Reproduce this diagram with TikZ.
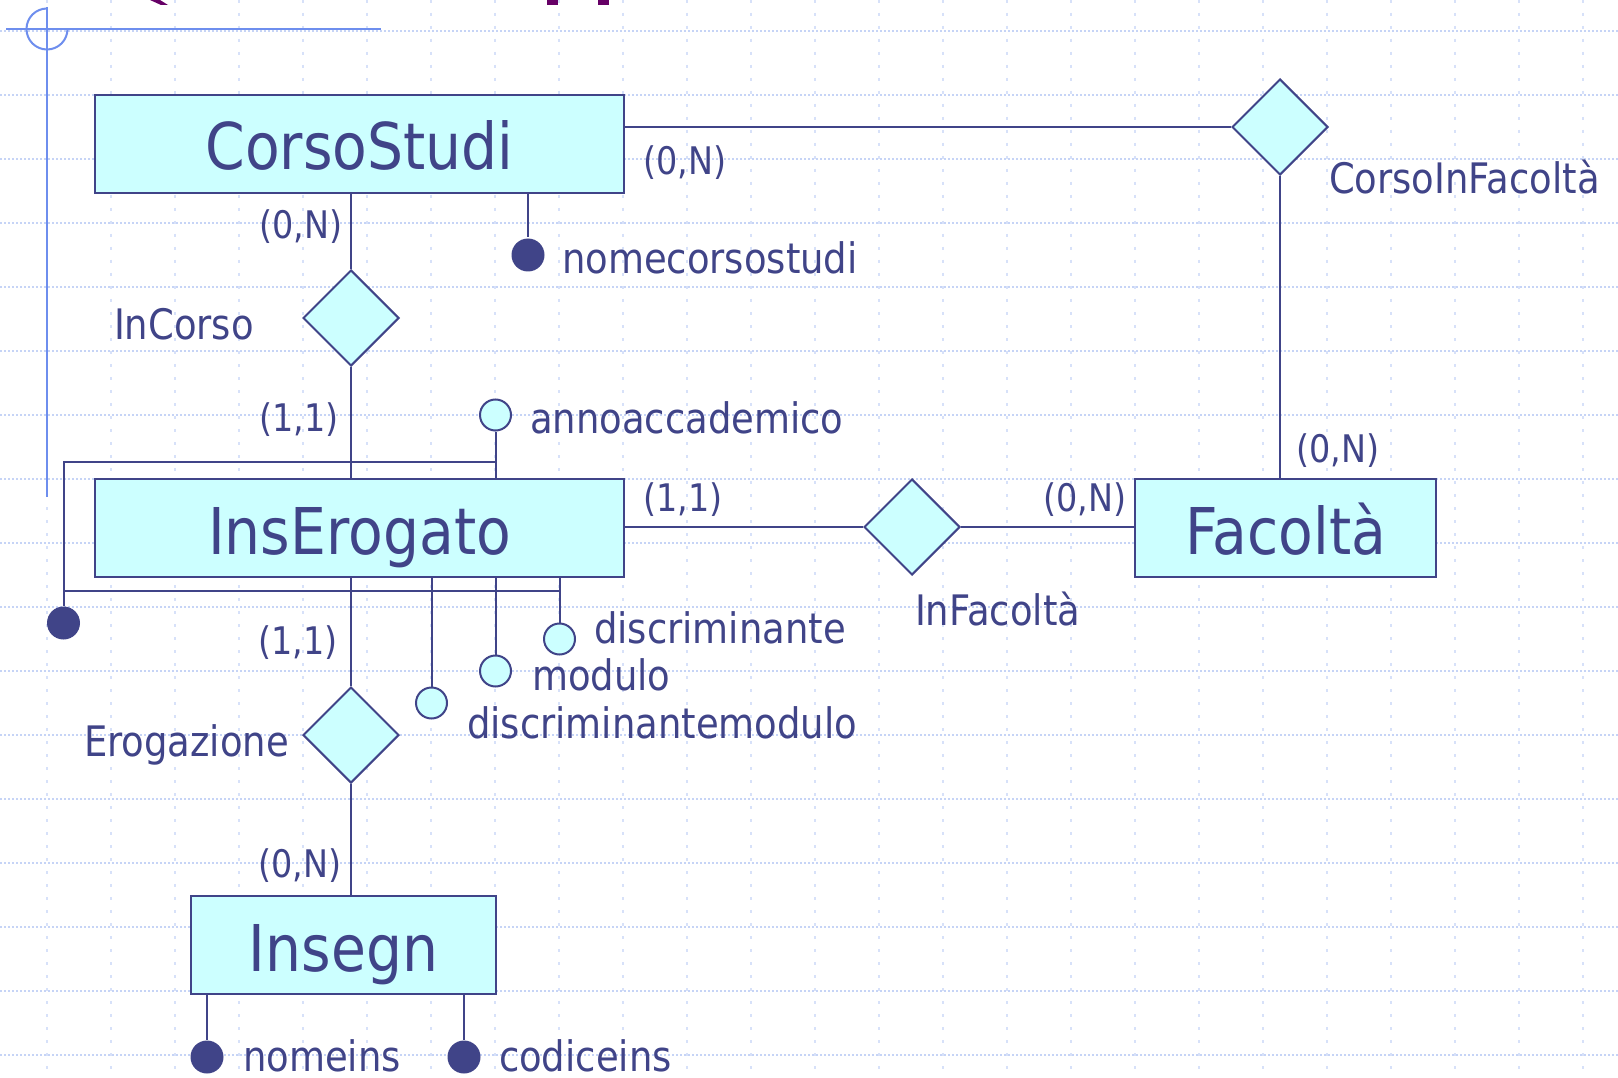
\documentclass[tikz,border=0pt]{standalone}
\usepackage{fontspec}
\setmainfont[FakeStretch=0.88]{DejaVu Sans}
\usetikzlibrary{shapes.geometric,positioning}

\definecolor{erblue}{HTML}{404488}
\definecolor{erfill}{HTML}{CCFFFF}
\definecolor{gridblue}{HTML}{C6D4F6}
\definecolor{decoblue}{HTML}{6E8EEE}
\definecolor{titlepurple}{HTML}{660066}

\begin{document}
\begin{tikzpicture}[
        x=1pt, y=-1pt,
        line width=2pt, erblue
    ]

    \tikzstyle{entity} = [rectangle,draw,fill=erfill,line width=2.4pt,inner sep=0pt,
        minimum height=98pt,text height=52pt,text depth=0pt,font=\fontsize{64.5}{70}\selectfont]
    \tikzstyle{relation} = [diamond,draw,fill=erfill,inner sep=0pt,minimum width=96pt,minimum height=96pt]
    \tikzstyle{keyattr} = [circle,fill=erblue,inner sep=0pt,minimum size=33pt]
    \tikzstyle{attr} = [circle,draw,fill=erfill,inner sep=0pt,minimum size=31pt]
    \tikzstyle{attrtext} = [anchor=base west,inner sep=0pt,font=\fontsize{42}{47}\selectfont]
    \tikzstyle{cardtext} = [inner sep=0pt,font=\fontsize{38}{42}\selectfont]

    \fill[white] (0,0) rectangle (1618,1078);
    \useasboundingbox (0,0) rectangle (1618,1078);

    % slide background
    \foreach \gy in {31,95,...,1055}
        \draw[gridblue,line width=1.5pt,dash pattern=on 2pt off 2pt] (0,\gy) -- (1618,\gy);
    \foreach \gx in {47,111,...,1583}
        \draw[gridblue!70,line width=1.5pt,dash pattern=on 3pt off 10pt] (\gx,0) -- (\gx,1078);
    \draw[decoblue] (6,29) -- (381,29);
    \draw[decoblue] (47,7) -- (47,497);
    \draw[decoblue] (67.5,29) arc[start angle=0,end angle=270,radius=20.5];
    \fill[titlepurple] (150,0) -- (160,0) -- (168,5) -- (161,5) -- cycle;
    \fill[titlepurple] (547,0) rectangle (558,5);
    \fill[titlepurple] (598,0) rectangle (609,5);

    % entities
    \node[entity,minimum width=529pt] (corso) at (359.5,144) {CorsoStudi};
    \node[entity,minimum width=529pt] (inserog) at (359.5,528) {InsErogato};
    \node[entity,minimum width=301pt] (facolta) at (1285.5,528) {Facoltà};
    \node[entity,minimum width=305pt] (insegn) at (343.5,945) {Insegn};

    % relationships
    \node[relation] (corsoinfac) at (1280,127) {};
    \node[relation] (incorso) at (351,318) {};
    \node[relation] (infac) at (912,527) {};
    \node[relation] (erogaz) at (351,735) {};

    % attributes
    \node[keyattr] (nomecs) at (528,255) {};
    \node[attr] (annoacc) at (495.5,415) {};
    \node[attr] (discr) at (559.5,639) {};
    \node[attr] (modulo) at (495.5,671) {};
    \node[attr] (discrmod) at (431.5,703) {};
    \node[keyattr] (idins) at (63.5,623) {};
    \node[keyattr] (nomeins) at (207,1057) {};
    \node[keyattr] (codins) at (464,1057) {};

    \coordinate (idtop) at (63.5,462);
    \coordinate (idbot) at (63.5,591);

    \path[]
        (corso.east |- corsoinfac) edge (corsoinfac)
        (corsoinfac) edge (facolta.north -| corsoinfac)
        (corso.south -| incorso) edge (incorso)
        (incorso) edge (inserog.north -| incorso)
        (inserog.east |- infac) edge (infac)
        (infac) edge (facolta.west |- infac)
        (inserog.south -| erogaz) edge (erogaz)
        (erogaz) edge (insegn.north -| erogaz)
        (corso.south -| nomecs) edge (nomecs)
        (annoacc) edge (inserog.north -| annoacc)
        (inserog.south -| discr) edge (discr)
        (inserog.south -| modulo) edge (modulo)
        (inserog.south -| discrmod) edge (discrmod)
        (insegn.south -| nomeins) edge (nomeins)
        (insegn.south -| codins) edge (codins)
    ;
    % identifier of InsErogato
    \draw (annoacc.south |- idtop) -- (idtop) -- (idins);
    \draw (idbot) -- (idbot -| discr);

    % names
    \node[attrtext] (tnomecs) at (561,274) {nomecorsostudi};
    \node[attrtext] (tcorsoinfac) at (1328,194) {CorsoInFacoltà};
    \node[attrtext] (tannoacc) at (529,433) {annoaccademico};
    \node[attrtext] (tdiscr) at (593,643) {discriminante};
    \node[attrtext] (tmodulo) at (531,690) {modulo};
    \node[attrtext] (tdiscrmod) at (466,738) {discriminantemodulo};
    \node[attrtext] (tinfac) at (914,625) {InFacoltà};
    \node[attrtext] (tincorso) at (113,339) {InCorso};
    \node[attrtext] (terogaz) at (83,756) {Erogazione};
    \node[attrtext] (tnomeins) at (242,1071) {nomeins};
    \node[attrtext] (tcodins) at (498,1071) {codiceins};

    % cardinalities
    \node[cardtext] (kcorsofac) at (685,163) {(0,N)};
    \node[cardtext] (kcorsoinc) at (301,227) {(0,N)};
    \node[cardtext] (kinsinc) at (299,420) {(1,1)};
    \node[cardtext] (kinsfac) at (683,500) {(1,1)};
    \node[cardtext] (kfacinf) at (1085,500) {(0,N)};
    \node[cardtext] (kfaccor) at (1338,451) {(0,N)};
    \node[cardtext] (kinserog) at (298,643) {(1,1)};
    \node[cardtext] (kinsegn) at (300,866) {(0,N)};

\end{tikzpicture}
\end{document}
